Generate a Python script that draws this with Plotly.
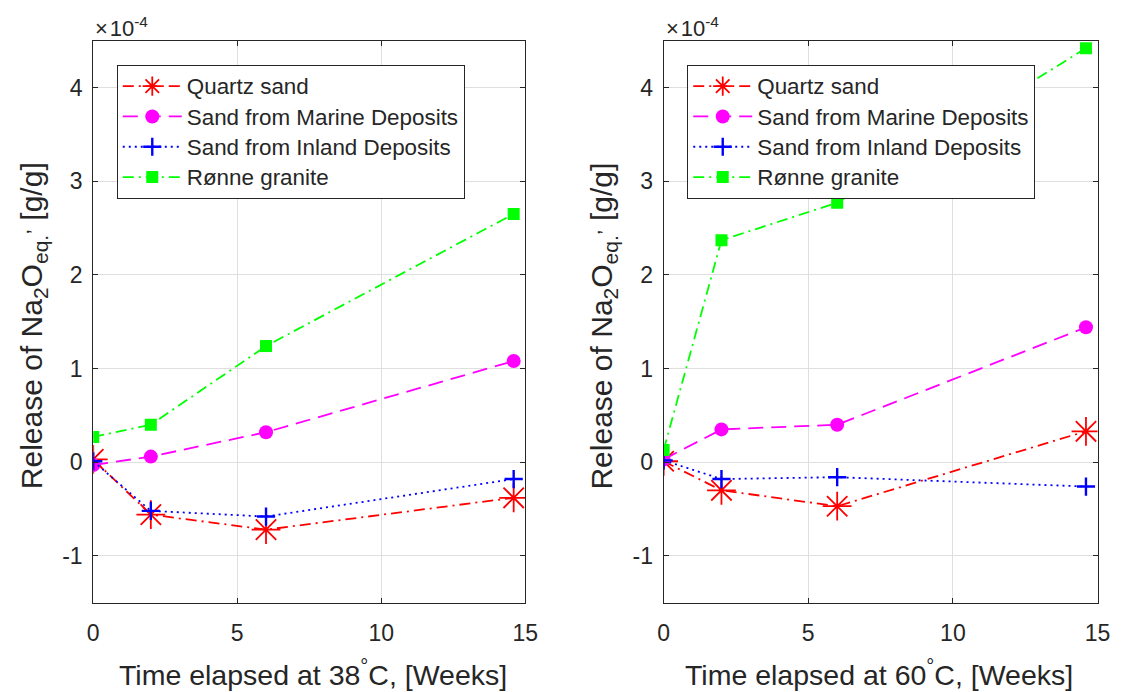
import plotly.graph_objects as go

# ---------------- data (values in units of 1e-4 g/g) ----------------
weeks = [0, 2, 6, 14.6]
series_names = ["Quartz sand", "Sand from Marine Deposits", "Sand from Inland Deposits", "Rønne granite"]

# 38 °C
quartz_38 = [0.03, -0.56, -0.72, -0.38]
marine_38 = [-0.03, 0.06, 0.32, 1.08]
inland_38 = [0.01, -0.52, -0.58, -0.18]
granite_38 = [0.27, 0.40, 1.24, 2.65]

# 60 °C
quartz_60 = [0.01, -0.30, -0.47, 0.33]
marine_60 = [0.03, 0.35, 0.40, 1.44]
inland_60 = [0.02, -0.18, -0.16, -0.26]
granite_60 = [0.13, 2.37, 2.77, 4.42]

x_ticks = [0, 5, 10, 15]
x_tick_labels = ["0", "5", "10", "15"]
y_ticks = [-1, 0, 1, 2, 3, 4]
y_tick_labels = ["-1", "0", "1", "2", "3", "4"]

# ---------------- styling ----------------
W, H = 1121, 684
# empirical mapping from figure pixels to screenshot pixels
X_OFF, X_SCALE = 12.5, 0.99
Y_OFF = 8.0
FONT = "Liberation Sans, Arial, Helvetica, sans-serif"
TXT = "#262626"

styles = [
    dict(color="#FF0000", dash="11px,5px,2px,5px", symbol="asterisk-open", size=24, mlw=1.8),
    dict(color="#FF00FF", dash="15px,8px", symbol="circle", size=14, mlw=0),
    dict(color="#0000FF", dash="2px,4px", symbol="cross-thin-open", size=13, mlw=2.4),
    dict(color="#00FF00", dash="11px,5px,2px,5px", symbol="square", size=12, mlw=0),
]

fig = go.Figure()

def add_panel(ys, xa, ya, legend):
    for name, y, st in zip(series_names, ys, styles):
        fig.add_trace(go.Scatter(
            x=weeks, y=y, name=f'<span style="font-size:22.4px">{name}</span>',
            mode="lines+markers",
            xaxis=xa, yaxis=ya, legend=legend,
            line=dict(color=st["color"], width=1.8, dash=st["dash"]),
            marker=dict(symbol=st["symbol"], size=st["size"], color=st["color"],
                        line=dict(color=st["color"], width=st["mlw"])),
        ))

add_panel([quartz_38, marine_38, inland_38, granite_38], "x", "y", "legend")
add_panel([quartz_60, marine_60, inland_60, granite_60], "x2", "y2", "legend2")

# target geometry (screenshot pixels)
L1, R1 = 92.3, 527.3
L2, R2 = 666.7, 1103.7
T, B = 40.7, 602.7

def px(v):
    return ((v - X_OFF) / X_SCALE) / W

def py(v):
    return 1 - (v - Y_OFF) / H

axis_common = dict(
    showline=True, linecolor=TXT, linewidth=1, mirror="ticks",
    ticks="inside", ticklen=5, tickwidth=1, tickcolor=TXT,
    showgrid=True, gridcolor="#DFDFDF", gridwidth=1, zeroline=False,
    tickfont=dict(family=FONT, size=23, color=TXT),
)

legend_common = dict(
    xanchor="left", yanchor="top",
    bgcolor="white", bordercolor=TXT, borderwidth=1,
    font=dict(family=FONT, size=21, color=TXT),
    itemwidth=59, traceorder="normal", tracegroupgap=0,
)

fig.update_layout(
    width=W, height=H,
    margin=dict(l=0, r=0, t=0, b=0),
    paper_bgcolor="white", plot_bgcolor="white",
    font=dict(family=FONT, color=TXT),
    xaxis=dict(domain=[px(L1), px(R1)], range=[0, 15], tickvals=x_ticks, ticktext=x_tick_labels,
               ticklabelstandoff=10, anchor="y", **axis_common),
    yaxis=dict(domain=[py(B), py(T)], range=[-1.5, 4.5], tickvals=y_ticks, ticktext=y_tick_labels,
               ticklabelstandoff=5, anchor="x", **axis_common),
    xaxis2=dict(domain=[px(L2), px(R2)], range=[0, 15], tickvals=x_ticks, ticktext=x_tick_labels,
                ticklabelstandoff=10, anchor="y2", **axis_common),
    yaxis2=dict(domain=[py(B), py(T)], range=[-1.5, 4.5], tickvals=y_ticks, ticktext=y_tick_labels,
                ticklabelstandoff=5, anchor="x2", **axis_common),
    legend=dict(x=px(116), y=py(65), **legend_common),
    legend2=dict(x=px(690.5), y=py(65), **legend_common),
    showlegend=True,
)

ylabel = "Release of Na<sub>2</sub>O<sub>eq.</sub><sup>,</sup> [g/g]"
annots = []
for lx, cx, temp in [(L1, 313.5, "38"), (L2, 884.0, "60")]:
    annots.append(dict(text="×\u200a10<sup>-4</sup>", x=px(lx), y=py(27), xref="paper", yref="paper",
                       xanchor="left", yanchor="middle", showarrow=False,
                       font=dict(family=FONT, size=22, color=TXT)))
    annots.append(dict(text=f"Time elapsed at {temp}<sup>°</sup>C, [Weeks]", x=px(cx), y=py(673),
                       xref="paper", yref="paper", xanchor="center", yanchor="middle",
                       showarrow=False, font=dict(family=FONT, size=28.5, color=TXT)))
    annots.append(dict(text=ylabel, x=px(lx - 62.5), y=py(326), xref="paper", yref="paper",
                       xanchor="center", yanchor="middle", textangle=-90, showarrow=False,
                       font=dict(family=FONT, size=30, color=TXT)))
fig.update_layout(annotations=annots)

fig.write_html("out.html")
